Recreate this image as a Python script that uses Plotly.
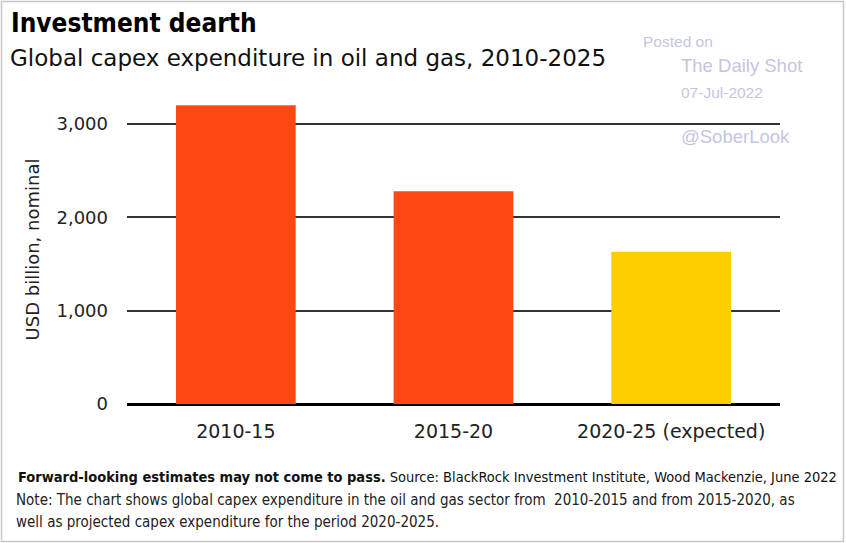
import plotly.graph_objects as go

categories = ["2010-15", "2015-20", "2020-25 (expected)"]
capex = [3200, 2280, 1630]
bar_colors = ["#FF4713", "#FF4713", "#FFCE00"]
tick_vals = [0, 1000, 2000, 3000]
tick_text = ["0", "1,000", "2,000", "3,000"]

W, H = 846, 543
L, R, T, B = 127, 66, 95, 139
pw, ph = W - L - R, H - T - B

def px(x):
    return (x - L) / pw

def py(y):
    return (H - B - y) / ph

COND = "DejaVu Sans Condensed, Liberation Sans"

fig = go.Figure()
fig.add_trace(go.Bar(
    x=categories, y=capex, marker=dict(color=bar_colors, line=dict(width=0)),
    width=0.55, hoverinfo="x+y"))

fig.update_layout(
    width=W, height=H, margin=dict(l=L, r=R, t=T, b=B),
    paper_bgcolor="white", plot_bgcolor="white", showlegend=False,
    font=dict(family="DejaVu Sans", color="#222"),
    xaxis=dict(range=[-0.5, 2.5], showgrid=False, showline=False, ticks="",
               tickfont=dict(family="DejaVu Sans", size=19, color="#222"),
               ticklabelstandoff=14, fixedrange=True),
    yaxis=dict(range=[0, 3310], tickvals=tick_vals, ticktext=tick_text,
               showgrid=True, gridcolor="#333", gridwidth=1.5,
               zeroline=True, zerolinecolor="#000", zerolinewidth=3,
               tickfont=dict(family="DejaVu Sans", size=18, color="#222"), ticks="", ticklabelstandoff=18,
               title=dict(text="USD billion, nominal", font=dict(family="DejaVu Sans", size=18, color="#222"),
                          standoff=12)),
)

ann = []
ann.append(dict(text="<b>Investment dearth</b>", x=px(9), y=py(23), xanchor="left", yanchor="middle",
                font=dict(family=COND, size=26, color="#000")))
ann.append(dict(text="Global capex expenditure in oil and gas, 2010-2025", x=px(8), y=py(58),
                xanchor="left", yanchor="middle", font=dict(family="DejaVu Sans", size=23, color="#111")))
wm = "#C5C5DF"
ann.append(dict(text="Posted on", x=px(641), y=py(41), xanchor="left", yanchor="middle",
                font=dict(family="Liberation Sans", size=15.5, color=wm)))
ann.append(dict(text="The Daily Shot", x=px(679), y=py(66), xanchor="left", yanchor="middle",
                font=dict(family="Liberation Sans", size=18.5, color=wm)))
ann.append(dict(text="07-Jul-2022", x=px(679), y=py(92), xanchor="left", yanchor="middle",
                font=dict(family="Liberation Sans", size=15.5, color=wm)))
ann.append(dict(text="@SoberLook", x=px(679), y=py(136), xanchor="left", yanchor="middle",
                font=dict(family="Liberation Sans", size=18.5, color=wm)))
ann.append(dict(text="<b>Forward-looking estimates may not come to pass.</b> Source: BlackRock Investment Institute, Wood Mackenzie, June 2022",
                x=px(16), y=py(477), xanchor="left", yanchor="middle",
                font=dict(family=COND, size=14.5, color="#111")))
ann.append(dict(text="Note: The chart shows global capex expenditure in the oil and gas sector from  2010-2015 and from 2015-2020, as",
                x=px(14), y=py(500), xanchor="left", yanchor="middle",
                font=dict(family=COND, size=15, color="#222")))
ann.append(dict(text="well as projected capex expenditure for the period 2020-2025.",
                x=px(14), y=py(522), xanchor="left", yanchor="middle",
                font=dict(family=COND, size=15, color="#222")))
for a in ann:
    a.update(xref="paper", yref="paper", showarrow=False)
fig.update_layout(annotations=ann)

fig.add_shape(type="rect", xref="paper", yref="paper",
              x0=px(1.5), x1=px(843.5), y0=py(1.5), y1=py(541.5),
              line=dict(color="#C8C8C8", width=1.5), fillcolor="rgba(0,0,0,0)", layer="below")

fig.write_html("out.html", config={"displayModeBar": False},
               post_script="document.body.style.margin='0';")
